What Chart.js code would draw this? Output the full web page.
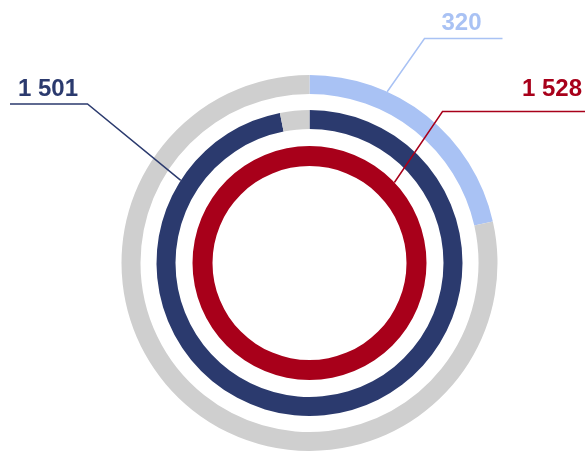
<!DOCTYPE html>
<html>
<head>
<meta charset="utf-8">
<script src="https://cdn.jsdelivr.net/npm/chart.js@4/dist/chart.umd.min.js"></script>
<style>
    html, body { margin: 0; padding: 0; background: #fff; }
    #wrap { position: relative; width: 585px; height: 451px; }
</style>
</head>
<body>
<div id="wrap"><canvas id="rings"></canvas></div>
<script>
// Ring values (highlighted part first, remainder second)
const outerValues = [320, 1172];
const middleValues = [1501, 48];
const innerValues = [1528];

const COLORS = {
    lightBlue: '#a9c2f4',
    navy: '#2b3a6e',
    red: '#a8001a',
    grey: '#cfcfcf'
};

// Callout for each labelled ring: anchor angle on the ring (degrees, clockwise from top),
// elbow point, and end of the horizontal rule
const CALLOUTS = [
    { dataset: 0, value: outerValues[0], color: COLORS.lightBlue, angle: 24.4,
      elbow: [424.5, 38.5], end: 502.5, textX: 461.5, textY: 30, align: 'center' },
    { dataset: 2, value: middleValues[0], color: COLORS.navy, angle: -57.3,
      elbow: [87.5, 104], end: 10, textX: 18, textY: 96, align: 'left' },
    { dataset: 4, value: innerValues[0], color: COLORS.red, angle: 46.5,
      elbow: [442.5, 111.5], end: 585, textX: 582, textY: 96, align: 'right' }
];

function formatNumber(num) {
    return num.toString().replace(/\B(?=(\d{3})+(?!\d))/g, ' ');
}

const calloutPlugin = {
    id: 'callouts',
    afterDatasetsDraw(chart) {
        const ctx = chart.ctx;
        ctx.save();
        CALLOUTS.forEach(c => {
            const arc = chart.getDatasetMeta(c.dataset).data[0];
            const a = c.angle * Math.PI / 180;
            const ax = arc.x + Math.sin(a) * arc.outerRadius;
            const ay = arc.y - Math.cos(a) * arc.outerRadius;

            ctx.strokeStyle = c.color;
            ctx.lineWidth = 1.5;
            ctx.beginPath();
            ctx.moveTo(ax, ay);
            ctx.lineTo(c.elbow[0], c.elbow[1]);
            ctx.lineTo(c.end, c.elbow[1]);
            ctx.stroke();

            ctx.fillStyle = c.color;
            ctx.font = 'bold 24px "Liberation Sans", Arial, sans-serif';
            ctx.textAlign = c.align;
            ctx.textBaseline = 'alphabetic';
            ctx.fillText(formatNumber(c.value), c.textX, c.textY);
        });
        ctx.restore();
    }
};

// transparent rings keep the white gaps between the coloured ones
const spacer = weight => ({
    data: [1],
    backgroundColor: ['rgba(0,0,0,0)'],
    weight: weight
});

new Chart(document.getElementById('rings'), {
    type: 'doughnut',
    data: {
        datasets: [
            { data: outerValues, backgroundColor: [COLORS.lightBlue, COLORS.grey], weight: 19 },
            spacer(16),
            { data: middleValues, backgroundColor: [COLORS.navy, COLORS.grey], weight: 19 },
            spacer(17),
            { data: innerValues, backgroundColor: [COLORS.red], weight: 20 }
        ]
    },
    options: {
        responsive: true,
        maintainAspectRatio: false,
        animation: false,
        cutout: 97,
        borderWidth: 0,
        elements: { arc: { borderWidth: 0 } },
        layout: { padding: { top: 75, bottom: 0, left: 34, right: 0 } },
        events: [],
        plugins: {
            legend: { display: false },
            tooltip: { enabled: false }
        }
    },
    plugins: [calloutPlugin]
});
</script>
</body>
</html>
